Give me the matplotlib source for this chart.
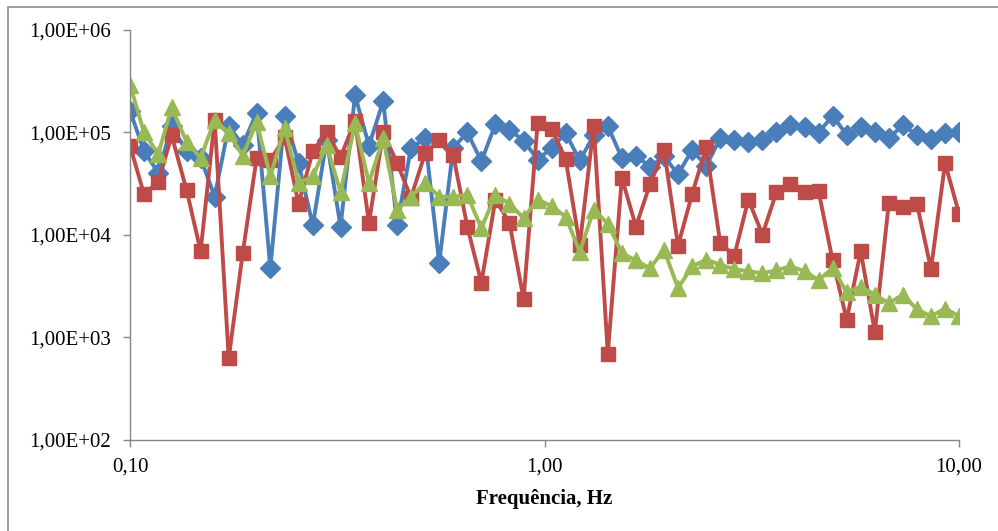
import matplotlib
matplotlib.use("Agg")
import matplotlib.pyplot as plt
from matplotlib.patches import Rectangle

# frequencies (Hz), log-spaced sweep
freq = [0.100, 0.108, 0.117, 0.126, 0.137, 0.148, 0.160, 0.173, 0.187, 0.202,
        0.218, 0.236, 0.255, 0.276, 0.298, 0.322, 0.349, 0.377, 0.408, 0.441,
        0.476, 0.515, 0.557, 0.602, 0.651, 0.704, 0.761, 0.823, 0.890, 0.962,
        1.040, 1.124, 1.216, 1.314, 1.421, 1.536, 1.661, 1.796, 1.942, 2.099,
        2.270, 2.454, 2.653, 2.869, 3.102, 3.354, 3.626, 3.920, 4.238, 4.582,
        4.954, 5.357, 5.791, 6.262, 6.770, 7.320, 7.914, 8.556, 9.251, 10.00]

blue = [1.62e5, 6.6e4, 4.0e4, 1.15e5, 6.5e4, 5.6e4, 2.35e4, 1.15e5, 7.5e4, 1.55e5,
        4.7e3, 1.44e5, 5.0e4, 1.23e4, 8.4e4, 1.2e4, 2.3e5, 7.4e4, 2.0e5, 1.25e4,
        7.0e4, 8.7e4, 5.3e3, 7.0e4, 1.0e5, 5.2e4, 1.2e5, 1.05e5, 8.3e4, 5.4e4,
        7.0e4, 9.8e4, 5.3e4, 9.3e4, 1.15e5, 5.6e4, 5.9e4, 4.6e4, 5.8e4, 3.9e4,
        6.7e4, 4.7e4, 8.7e4, 8.4e4, 8.1e4, 8.4e4, 1.0e5, 1.18e5, 1.13e5, 9.9e4,
        1.45e5, 9.4e4, 1.12e5, 1.0e5, 8.7e4, 1.18e5, 9.4e4, 8.5e4, 9.9e4, 1.0e5]

red = [7.4e4, 2.5e4, 3.25e4, 9.3e4, 2.7e4, 6.9e3, 1.32e5, 620, 6.6e3, 5.6e4,
       5.3e4, 9.0e4, 2.0e4, 6.5e4, 1.0e5, 5.7e4, 1.3e5, 1.3e4, 1.0e5, 5.0e4,
       2.3e4, 6.2e4, 8.4e4, 6.0e4, 1.2e4, 3.4e3, 2.2e4, 1.3e4, 2.35e3, 1.22e5,
       1.07e5, 5.5e4, 7.9e3, 1.15e5, 690, 3.6e4, 1.2e4, 3.1e4, 6.7e4, 7.8e3,
       2.5e4, 7.1e4, 8.3e3, 6.2e3, 2.2e4, 1.0e4, 2.6e4, 3.1e4, 2.6e4, 2.65e4,
       5.6e3, 1.48e3, 6.9e3, 1.12e3, 2.05e4, 1.88e4, 2.0e4, 4.6e3, 5.0e4, 1.6e4]

green = [2.9e5, 1.0e5, 6.1e4, 1.75e5, 8.0e4, 5.6e4, 1.32e5, 9.8e4, 5.9e4, 1.25e5,
         3.7e4, 1.1e5, 3.2e4, 3.7e4, 7.5e4, 2.6e4, 1.22e5, 3.2e4, 8.7e4, 1.75e4,
         2.35e4, 3.2e4, 2.35e4, 2.35e4, 2.45e4, 1.15e4, 2.45e4, 2.0e4, 1.45e4, 2.2e4,
         1.9e4, 1.5e4, 6.8e3, 1.75e4, 1.28e4, 6.6e3, 5.6e3, 4.7e3, 7.1e3, 3.0e3,
         4.9e3, 5.7e3, 5.1e3, 4.6e3, 4.4e3, 4.2e3, 4.5e3, 4.9e3, 4.4e3, 3.6e3,
         4.7e3, 2.75e3, 3.1e3, 2.6e3, 2.14e3, 2.6e3, 1.86e3, 1.6e3, 1.9e3, 1.6e3]

yticks = [1e2, 1e3, 1e4, 1e5, 1e6]
ytick_labels = ["1,00E+02", "1,00E+03", "1,00E+04", "1,00E+05", "1,00E+06"]
xticks = [0.1, 1.0, 10.0]
xtick_labels = ["0,10", "1,00", "10,00"]

plt.rcParams['font.family'] = ['Liberation Serif', 'DejaVu Serif']

fig = plt.figure(figsize=(9.98, 5.31), dpi=100)
ax = fig.add_axes([0.1303, 0.1723, 0.8307, 0.7716])

# chart area border
fig.patches.append(Rectangle((8 / 998, -0.05), 1.2, 1 - 7 / 531 + 0.05,
                             transform=fig.transFigure, fill=False,
                             edgecolor='#8c8c8c', linewidth=1.2))

ax.plot(freq, blue, color='#4A7EBB', lw=2.8, marker='D', markersize=10,
        markeredgecolor='#4A7EBB')
ax.plot(freq, red, color='#BE4B48', lw=2.8, marker='s', markersize=10,
        markeredgecolor='#BE4B48')
ax.plot(freq, green, color='#98B954', lw=2.8, marker='^', markersize=11.5,
        markeredgecolor='#98B954')

ax.set_xscale('log')
ax.set_yscale('log')
ax.set_xlim(0.1, 10)
ax.set_ylim(1e2, 1e6)

ax.set_yticks(yticks)
ax.set_yticklabels(ytick_labels)
ax.set_xticks(xticks)
ax.set_xticklabels(xtick_labels)
ax.minorticks_off()
ax.tick_params(axis='both', colors='#868686', labelcolor='black',
               labelsize=15, length=5, width=1, direction='out')
ax.tick_params(axis='y', pad=9)
ax.tick_params(axis='x', pad=8)

for s in ['top', 'right']:
    ax.spines[s].set_visible(False)
for s in ['left', 'bottom']:
    ax.spines[s].set_color('#868686')
    ax.spines[s].set_linewidth(1)

ax.set_xlabel("Frequência, Hz", fontsize=15, fontweight='bold', labelpad=9)

plt.savefig("out.png", dpi=100)
